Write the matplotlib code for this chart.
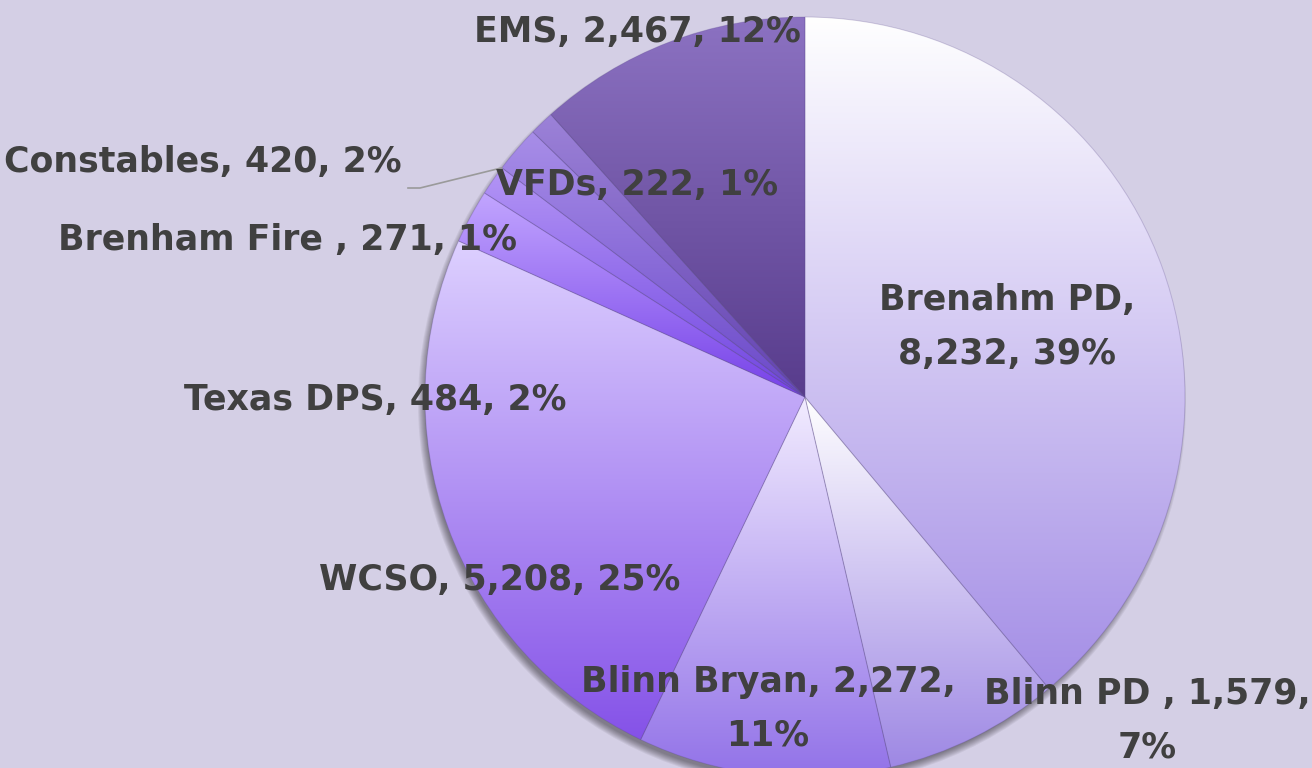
import numpy as np
import matplotlib
matplotlib.use("Agg")
import matplotlib.pyplot as plt
from matplotlib.patches import Circle
from matplotlib.colors import to_rgb

# ---- data ----
categories = ["Brenahm PD", "Blinn PD ", "Blinn Bryan", "WCSO", "Texas DPS",
              "Brenham Fire ", "Constables", "VFDs", "EMS"]
values = [8232, 1579, 2272, 5208, 484, 271, 420, 222, 2467]
percents = [39, 7, 11, 25, 2, 1, 2, 1, 12]

# ---- style ----
top_colors = ["#FFFFFF", "#FFFFFF", "#F2ECFF", "#DDD0FF", "#C2A6FF",
              "#B496F6", "#A88EE8", "#9C82D8", "#8C72C2"]
bot_colors = ["#A48EE6", "#9E88E4", "#9272E8", "#8552E8", "#7640E8",
              "#7044E0", "#6A48C8", "#6242B0", "#583C8C"]
# label centers in pixel coords (x, y from top) and line breaks
label_pos = [(1007, 327), (1147, 721), (768, 709), (500, 580), (375, 400),
             (287, 240), (203, 162), (637, 185), (637, 32)]
label_break = [True, True, True, False, False, False, False, False, False]

W, H = 1312, 768
cx, cy_px, R = 805, 397, 380
cy = H - cy_px
bg = "#D4CFE5"
txt_color = "#404040"

fig = plt.figure(figsize=(W / 100, H / 100), dpi=100, facecolor=bg)
ax = fig.add_axes([0, 0, 1, 1])
ax.set_facecolor(bg)

# soft drop shadow
for i in range(8):
    ax.add_patch(Circle((cx - 3, cy - 6), R + 4 - i, facecolor="black",
                        edgecolor="none", alpha=0.06, zorder=0.1))

wedges, _ = ax.pie(values, center=(cx, cy), radius=R, startangle=90,
                   counterclock=False,
                   wedgeprops=dict(facecolor="none", edgecolor=(0.35, 0.28, 0.55, 0.25),
                                   linewidth=0.7))
for w in wedges:
    w.set_zorder(3)

# gradient fills
n = 256
for w, ct, cb in zip(wedges, top_colors, bot_colors):
    ext = w.get_path().get_extents()
    t = np.linspace(0, 1, n)[:, None]
    c1, c2 = np.array(to_rgb(ct)), np.array(to_rgb(cb))
    grad = (1 - t)[:, :, None] * c1 + t[:, :, None] * c2
    grad = np.repeat(grad, 2, axis=1)
    im = ax.imshow(grad, extent=[ext.x0, ext.x1, ext.y0, ext.y1], origin="upper",
                   aspect="auto", interpolation="bilinear", zorder=2)
    im.set_clip_path(w)

ax.set_xlim(0, W)
ax.set_ylim(0, H)
ax.set_aspect("equal")
ax.axis("off")

# labels
for name, v, p, (lx, ly), br in zip(categories, values, percents, label_pos, label_break):
    sep = "\n" if br else " "
    if name == "Brenahm PD":
        s = f"{name},\n{v:,}, {p}%"
    else:
        s = f"{name}, {v:,},{sep}{p}%"
    ax.text(lx, H - ly, s, ha="center", va="center", fontsize=25,
            fontweight="bold", color=txt_color, family="DejaVu Sans",
            linespacing=1.72, zorder=5)

# leader line for Constables (to the Brenham Fire / Constables boundary)
ang = np.deg2rad(90 - 360 * sum(values[:6]) / sum(values))
ex, ey = cx + R * np.cos(ang), cy + R * np.sin(ang)
ax.plot([408, 420, ex], [H - 188, H - 188, ey], color="#9A9A9A", lw=1.2, zorder=4)

fig.savefig("out.png", dpi=100, facecolor=bg)
